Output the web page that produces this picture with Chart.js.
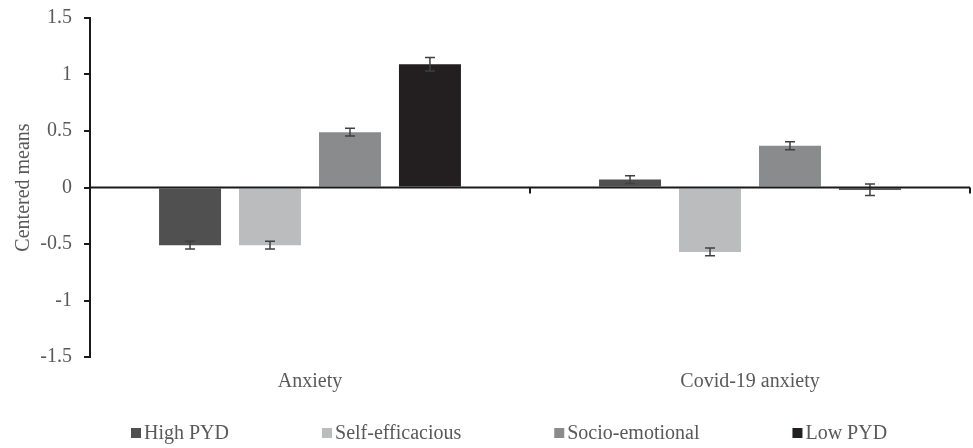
<!DOCTYPE html>
<html>
<head>
<meta charset="utf-8">
<script src="https://cdn.jsdelivr.net/npm/chart.js@4/dist/chart.umd.min.js"></script>
<style>
  html, body { margin: 0; padding: 0; background: #ffffff; }
  #wrap { width: 973px; height: 448px; }
</style>
</head>
<body>
<div id="wrap"><canvas id="chart" width="973" height="448"></canvas></div>
<script>
// Outcome categories
const categories = ['Anxiety', 'Covid-19 anxiety'];

// Profile names
const profiles = ['High PYD', 'Self-efficacious', 'Socio-emotional', 'Low PYD'];

// Centered means per profile (Anxiety, Covid-19 anxiety)
const highPYD = [-0.51, 0.07];
const selfEfficacious = [-0.51, -0.57];
const socioEmotional = [0.49, 0.37];
const lowPYD = [1.09, -0.02];

// Standard errors per profile
const highPYDErr = [0.035, 0.035];
const selfEfficaciousErr = [0.035, 0.035];
const socioEmotionalErr = [0.035, 0.035];
const lowPYDErr = [0.06, 0.05];

// Y-axis tick values
const yTicks = [-1.5, -1, -0.5, 0, 0.5, 1, 1.5];

const colors = ['#505050', '#bbbcbe', '#8a8b8d', '#231f20'];
const textColor = '#595959';
const serif = "'Liberation Serif', 'Times New Roman', serif";
const fontSize = 20;

const seriesValues = [highPYD, selfEfficacious, socioEmotional, lowPYD];
const seriesErrors = [highPYDErr, selfEfficaciousErr, socioEmotionalErr, lowPYDErr];

// Error bars drawn at each bar's position
const errorBars = {
  id: 'errorBars',
  afterDatasetsDraw(chart) {
    const ctx = chart.ctx;
    const y = chart.scales.y;
    ctx.save();
    ctx.strokeStyle = '#404040';
    ctx.lineWidth = 1.5;
    chart.data.datasets.forEach((ds, i) => {
      const meta = chart.getDatasetMeta(i);
      meta.data.forEach((bar, j) => {
        const v = ds.data[j];
        const e = ds.errors[j];
        const x = bar.x;
        const yTop = y.getPixelForValue(v + e);
        const yBot = y.getPixelForValue(v - e);
        ctx.beginPath();
        ctx.moveTo(x, yTop); ctx.lineTo(x, yBot);
        ctx.moveTo(x - 5, yTop); ctx.lineTo(x + 5, yTop);
        ctx.moveTo(x - 5, yBot); ctx.lineTo(x + 5, yBot);
        ctx.stroke();
      });
    });
    ctx.restore();
  }
};

// Horizontal axis line at zero with category boundary ticks
const zeroAxis = {
  id: 'zeroAxis',
  afterDatasetsDraw(chart) {
    const ctx = chart.ctx;
    const area = chart.chartArea;
    const x = chart.scales.x;
    const y0 = chart.scales.y.getPixelForValue(0);
    const step = x.getPixelForValue(1) - x.getPixelForValue(0);
    ctx.save();
    ctx.strokeStyle = '#1a1a1a';
    ctx.lineWidth = 2;
    ctx.beginPath();
    ctx.moveTo(area.left, y0);
    ctx.lineTo(area.right, y0);
    for (let k = 0; k < categories.length; k++) {
      const bx = x.getPixelForValue(k) + step / 2;
      ctx.moveTo(bx, y0);
      ctx.lineTo(bx, y0 + 6);
    }
    ctx.stroke();
    ctx.restore();
  }
};

// Legend row along the bottom: square swatch followed by the profile name
const legendRow = {
  id: 'legendRow',
  afterDraw(chart) {
    const ctx = chart.ctx;
    const yc = 433;
    const box = 10;
    const textGap = 3;
    const itemGap = 93;
    ctx.save();
    ctx.font = fontSize + 'px ' + serif;
    ctx.textBaseline = 'middle';
    ctx.textAlign = 'left';
    let x = 131;
    chart.data.datasets.forEach((ds) => {
      ctx.fillStyle = ds.backgroundColor;
      ctx.fillRect(x, yc - box / 2, box, box);
      ctx.fillStyle = textColor;
      ctx.fillText(ds.label, x + box + textGap, yc + 1);
      x += box + textGap + ctx.measureText(ds.label).width + itemGap;
    });
    ctx.restore();
  }
};

new Chart(document.getElementById('chart'), {
  type: 'bar',
  data: {
    labels: categories,
    datasets: profiles.map((name, i) => ({
      label: name,
      data: seriesValues[i],
      errors: seriesErrors[i],
      backgroundColor: colors[i],
      borderWidth: 0,
      categoryPercentage: 0.727,
      barPercentage: 0.775
    }))
  },
  options: {
    responsive: false,
    animation: false,
    layout: { padding: { top: 18, right: 3, left: 0, bottom: 0 } },
    plugins: {
      tooltip: { enabled: false },
      legend: { display: false }
    },
    scales: {
      x: {
        afterFit(scale) { scale.height = 91; },
        grid: { display: false, drawTicks: false },
        border: { display: false },
        ticks: { color: textColor, font: { family: serif, size: fontSize }, padding: 13 }
      },
      y: {
        min: -1.5,
        max: 1.5,
        afterFit(scale) { scale.width = 90; scale.paddingTop = 10; },
        afterBuildTicks(axis) { axis.ticks = yTicks.map(v => ({ value: v })); },
        ticks: {
          color: textColor,
          font: { family: serif, size: fontSize, lineHeight: 1 },
          padding: 12,
          callback: v => String(v)
        },
        grid: { drawOnChartArea: false, color: '#1a1a1a', tickLength: 6, lineWidth: 2 },
        border: { color: '#1a1a1a', width: 2 },
        title: {
          display: true,
          text: 'Centered means',
          color: textColor,
          font: { family: serif, size: 20 },
          padding: { top: 12, bottom: 0 }
        }
      }
    }
  },
  plugins: [errorBars, zeroAxis, legendRow]
});
</script>
</body>
</html>
